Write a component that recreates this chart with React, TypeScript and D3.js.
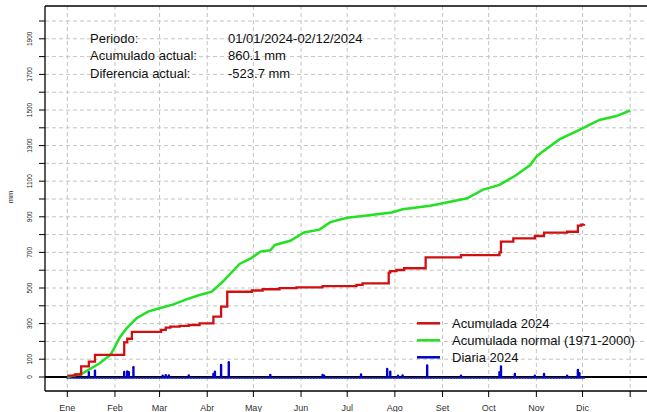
import React from 'react';
import * as d3 from 'd3';

// day index (0 = 1 Jan 2024) and cumulative / daily mm
const acumulada2024: [number, number][] = [
  [0, 8], [5, 14], [9, 60], [14, 86], [18, 124], [37, 195], [39, 215], [42, 254],
  [61, 265], [64, 277], [67, 283], [73, 287], [79, 292], [86, 301], [95, 339],
  [100, 395], [104, 479], [120, 486], [127, 493], [138, 499], [149, 504], [166, 511],
  [188, 517], [192, 526], [209, 586], [210, 595], [214, 601], [219, 611], [233, 672],
  [256, 685], [281, 700], [282, 760], [290, 779], [304, 792], [310, 811], [325, 816],
  [332, 850], [334, 856], [336, 860.1]
];

const acumuladaNormal: [number, number][] = [
  [0, 0], [10, 21], [21, 77], [28, 124], [31, 170], [34, 221], [38.5, 273], [45, 330],
  [52.5, 367], [60, 386], [69, 408], [77.5, 436], [86, 461], [94, 479], [101, 535],
  [112, 635], [119, 665], [126, 706], [132, 712], [135, 742], [145, 765], [154, 812],
  [164, 828], [171, 870], [182, 895], [192, 904], [211, 924], [218, 942], [236, 962],
  [249, 985], [260, 1004], [270, 1051], [281, 1079], [292, 1135], [301, 1191],
  [305, 1238], [309, 1266], [320, 1335], [333, 1388], [346, 1444], [357, 1466], [366, 1497]
];

const diaria2024: [number, number][] = [
  [1, 5], [4, 6], [14, 31], [18, 39], [37, 32], [39, 35], [40, 30], [43, 58],
  [62, 10], [64, 14], [66, 12], [79, 12], [95, 20], [96, 33], [100, 71], [105, 86],
  [132, 15], [166, 15], [167, 10], [191, 17], [208, 48], [210, 33], [215, 10], [218, 12],
  [234, 68], [256, 10], [281, 30], [282, 62], [291, 20], [304, 10], [310, 20], [325, 10],
  [332, 43], [333, 25]
];
const ultimoDia = 336;

const meses = ['Ene', 'Feb', 'Mar', 'Abr', 'May', 'Jun', 'Jul', 'Ago', 'Set', 'Oct', 'Nov', 'Dic', ''];
const inicioMes = [0, 31, 60, 91, 121, 152, 182, 213, 244, 274, 305, 335, 366];
const yTicks = d3.range(0, 2001, 100);
const yLabels = [0, 100, 300, 500, 700, 900, 1100, 1300, 1500, 1700, 1900];

const infoLabels = ['Periodo:', 'Acumulado actual:', 'Diferencia actual:'];
const infoValues = ['01/01/2024-02/12/2024', '860.1 mm', '-523.7 mm'];

const legend = [
  { label: 'Acumulada 2024', color: '#d01010' },
  { label: 'Acumulada normal (1971-2000)', color: '#22e022' },
  { label: 'Diaria 2024', color: '#0000cd' }
];

export default function App() {
  const W = 647, H = 412;
  const left = 45, top = 6, bottom = 391, right = 662;
  const x = d3.scaleLinear().domain([0, 335]).range([67.3, 582.5]);
  const y = d3.scaleLinear().domain([0, 1900]).range([377, 38.8]);
  const line = d3.line<[number, number]>().x(d => x(d[0])).y(d => y(d[1]));
  const stepLine = d3.line<[number, number]>().x(d => x(d[0])).y(d => y(d[1])).curve(d3.curveStepAfter);

  const lluvia = new Map(diaria2024);
  const dias = d3.range(0, ultimoDia + 1).map(d => [d, lluvia.get(d) ?? 0] as [number, number]);
  const font = 'Arial, "Liberation Sans", sans-serif';
  const grid = '#c4c4c4';

  return (
    <svg width={W} height={H} style={{ position: 'absolute', left: 0, top: 0, background: '#fff' }} fontFamily={font}>
      {/* grid */}
      {yTicks.filter(v => v > 0).map(v => (
        <line key={'gy' + v} x1={left} x2={right} y1={y(v)} y2={y(v)} stroke={grid} strokeDasharray="4,3" />
      ))}
      {inicioMes.map(d => (
        <line key={'gx' + d} x1={x(d)} x2={x(d)} y1={top} y2={bottom} stroke={grid} strokeDasharray="4,3" />
      ))}

      {/* info text */}
      {infoLabels.map((t, i) => (
        <text key={t} x={90} y={43 + i * 17.3} fontSize={13} fill="#111">{t}</text>
      ))}
      {infoValues.map((t, i) => (
        <text key={t} x={228} y={43 + i * 17.3} fontSize={13} fill="#111">{t}</text>
      ))}

      {/* zero line */}
      <line x1={left} x2={right} y1={y(0)} y2={y(0)} stroke="#000" strokeWidth={1.8} />

      {/* daily bars */}
      {dias.map(([d, v]) => v > 0 ? (
        <line key={'b' + d} x1={x(d)} x2={x(d)} y1={y(0) + 0.6} y2={y(v) + 0.6} stroke="#0000cd"
          strokeWidth={2.4} strokeLinecap="round" />
      ) : (
        <circle key={'b' + d} cx={x(d)} cy={y(0) + 1} r={0.9} fill="#1a1ac0" />
      ))}

      <path d={line(acumuladaNormal) ?? ''} fill="none" stroke="#22e022" strokeWidth={2.5} />
      <path d={stepLine(acumulada2024) ?? ''} fill="none" stroke="#d01010" strokeWidth={2.3} />

      {/* frame */}
      <line x1={left} x2={right} y1={top} y2={top} stroke="#000" strokeWidth={1.3} />
      <line x1={left} x2={left} y1={top} y2={bottom} stroke="#000" strokeWidth={1.3} />
      <line x1={left} x2={right} y1={bottom} y2={bottom} stroke="#000" strokeWidth={1.3} />

      {/* y axis */}
      {yTicks.map(v => (
        <line key={'ty' + v} x1={39} x2={left} y1={y(v)} y2={y(v)} stroke="#000" />
      ))}
      {yLabels.map(v => (
        <text key={'ly' + v} transform={`translate(32.3,${y(v)}) rotate(-90)`} textAnchor="middle"
          fontSize={6.5} fill="#222">{v}</text>
      ))}
      <text transform="translate(12.5,197) rotate(-90)" textAnchor="middle" fontSize={7.5} fill="#222">mm</text>

      {/* x axis */}
      {inicioMes.map((d, i) => (
        <g key={'tx' + d}>
          <line x1={x(d)} x2={x(d)} y1={bottom} y2={397} stroke="#000" />
          <text x={x(d)} y={410.5} textAnchor="middle" fontSize={9} fill="#333">{meses[i]}</text>
        </g>
      ))}

      {/* legend */}
      {legend.map((l, i) => (
        <g key={l.label}>
          <line x1={417} x2={440} y1={323.3 + i * 17} y2={323.3 + i * 17} stroke={l.color} strokeWidth={2.5} />
          <text x={452} y={328 + i * 17} fontSize={13} fill="#111">{l.label}</text>
        </g>
      ))}
    </svg>
  );
}
